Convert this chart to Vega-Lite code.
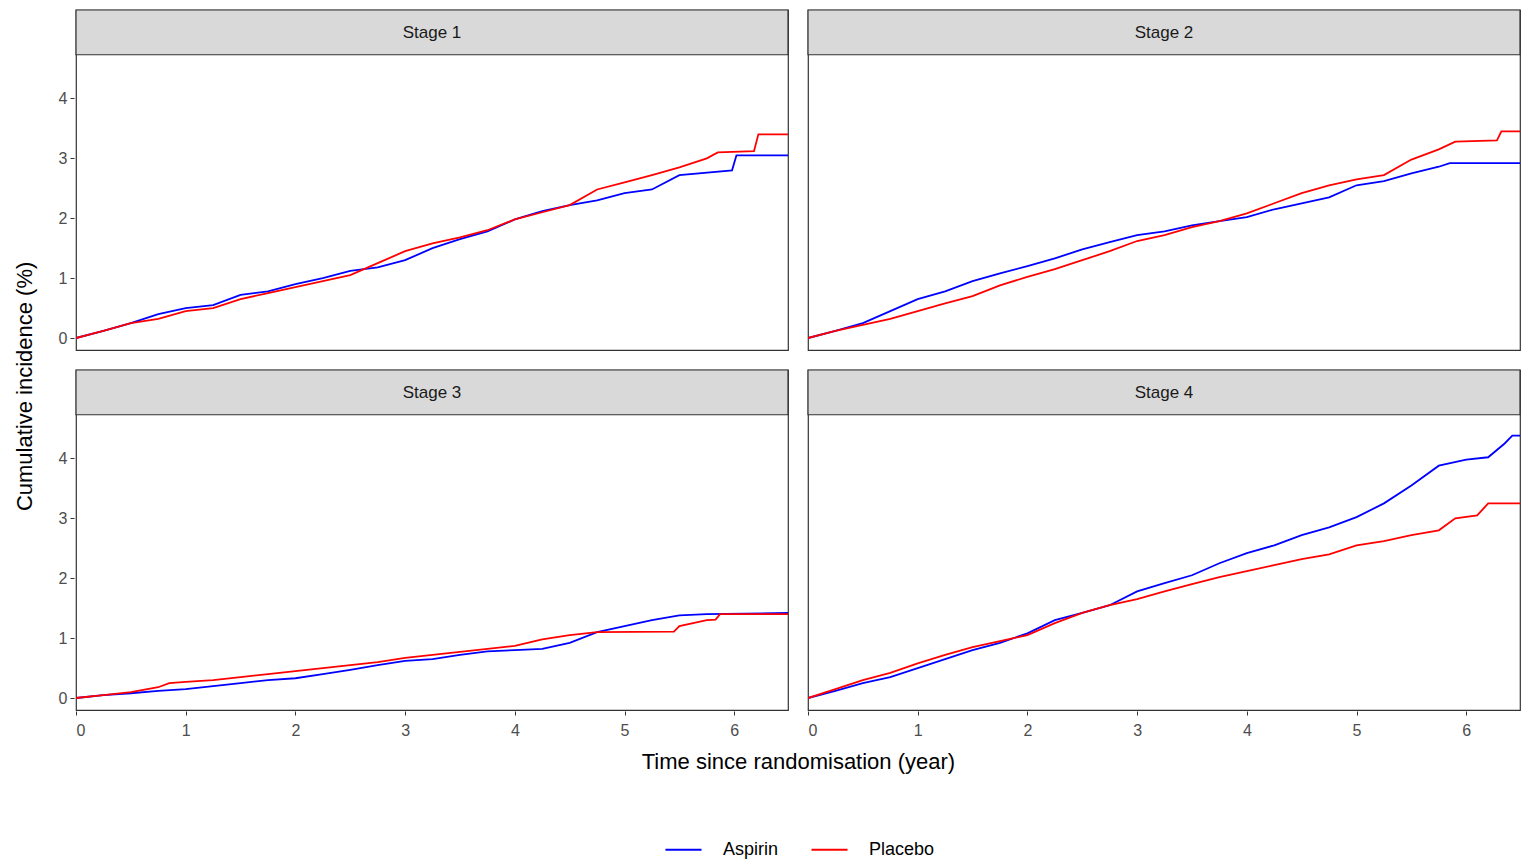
{
  "$schema": "https://vega.github.io/schema/vega-lite/v6.json",
  "background": "white",
  "padding": {"left": 12, "top": 8, "right": 1, "bottom": 5},
  "config": {
    "font": "Liberation Sans",
    "view": {"stroke": "#333333", "strokeWidth": 1.2},
    "axis": {"grid": false, "domain": false, "tickColor": "#333333", "labelColor": "#4d4d4d", "labelFontSize": 16, "tickSize": 4, "labelPadding": 3},
    "axisX": {"labelPadding": 7},
    "legend": {"labelFontSize": 18, "labelColor": "black"},
    "headerFacet": {"labels": false, "title": null, "labelPadding": 0}
  },
  "spacing": 0,
  "vconcat": [
    {
      "hconcat": [
        {
          "data": {"values": [{"label": "Cumulative incidence (%)"}]},
          "width": 26,
          "height": 697,
          "view": {"stroke": null},
          "mark": {"type": "text", "angle": 270, "fontSize": 22, "color": "black", "baseline": "middle"},
          "encoding": {
            "x": {"datum": 0.5, "type": "quantitative", "scale": {"domain": [0, 1]}, "axis": null},
            "y": {"datum": 0.46, "type": "quantitative", "scale": {"domain": [0, 1]}, "axis": null},
            "text": {"field": "label"}
          }
        },
        {
          "data": {"values": [
    {"s":"Stage 1","g":"Aspirin","t":0,"v":0},{"s":"Stage 1","g":"Aspirin","t":0.25,"v":0.12},{"s":"Stage 1","g":"Aspirin","t":0.5,"v":0.25},{"s":"Stage 1","g":"Aspirin","t":0.75,"v":0.4},{"s":"Stage 1","g":"Aspirin","t":1,"v":0.5},{"s":"Stage 1","g":"Aspirin","t":1.25,"v":0.55},{"s":"Stage 1","g":"Aspirin","t":1.5,"v":0.72},{"s":"Stage 1","g":"Aspirin","t":1.75,"v":0.78},{"s":"Stage 1","g":"Aspirin","t":2,"v":0.9},{"s":"Stage 1","g":"Aspirin","t":2.25,"v":1.0},{"s":"Stage 1","g":"Aspirin","t":2.5,"v":1.12},{"s":"Stage 1","g":"Aspirin","t":2.75,"v":1.18},{"s":"Stage 1","g":"Aspirin","t":3,"v":1.3},{"s":"Stage 1","g":"Aspirin","t":3.25,"v":1.5},{"s":"Stage 1","g":"Aspirin","t":3.5,"v":1.65},{"s":"Stage 1","g":"Aspirin","t":3.75,"v":1.78},{"s":"Stage 1","g":"Aspirin","t":4,"v":1.98},{"s":"Stage 1","g":"Aspirin","t":4.25,"v":2.12},{"s":"Stage 1","g":"Aspirin","t":4.5,"v":2.22},{"s":"Stage 1","g":"Aspirin","t":4.75,"v":2.3},{"s":"Stage 1","g":"Aspirin","t":5,"v":2.42},{"s":"Stage 1","g":"Aspirin","t":5.25,"v":2.48},{"s":"Stage 1","g":"Aspirin","t":5.5,"v":2.72},{"s":"Stage 1","g":"Aspirin","t":5.98,"v":2.8},{"s":"Stage 1","g":"Aspirin","t":6.02,"v":3.05},{"s":"Stage 1","g":"Aspirin","t":6.49,"v":3.05},
    {"s":"Stage 1","g":"Placebo","t":0,"v":0},{"s":"Stage 1","g":"Placebo","t":0.25,"v":0.12},{"s":"Stage 1","g":"Placebo","t":0.5,"v":0.25},{"s":"Stage 1","g":"Placebo","t":0.75,"v":0.32},{"s":"Stage 1","g":"Placebo","t":1,"v":0.45},{"s":"Stage 1","g":"Placebo","t":1.25,"v":0.5},{"s":"Stage 1","g":"Placebo","t":1.5,"v":0.65},{"s":"Stage 1","g":"Placebo","t":1.75,"v":0.75},{"s":"Stage 1","g":"Placebo","t":2,"v":0.85},{"s":"Stage 1","g":"Placebo","t":2.25,"v":0.95},{"s":"Stage 1","g":"Placebo","t":2.5,"v":1.05},{"s":"Stage 1","g":"Placebo","t":2.75,"v":1.25},{"s":"Stage 1","g":"Placebo","t":3,"v":1.45},{"s":"Stage 1","g":"Placebo","t":3.25,"v":1.58},{"s":"Stage 1","g":"Placebo","t":3.5,"v":1.68},{"s":"Stage 1","g":"Placebo","t":3.75,"v":1.8},{"s":"Stage 1","g":"Placebo","t":4,"v":1.98},{"s":"Stage 1","g":"Placebo","t":4.25,"v":2.1},{"s":"Stage 1","g":"Placebo","t":4.5,"v":2.22},{"s":"Stage 1","g":"Placebo","t":4.75,"v":2.48},{"s":"Stage 1","g":"Placebo","t":5,"v":2.6},{"s":"Stage 1","g":"Placebo","t":5.25,"v":2.72},{"s":"Stage 1","g":"Placebo","t":5.5,"v":2.85},{"s":"Stage 1","g":"Placebo","t":5.75,"v":3.0},{"s":"Stage 1","g":"Placebo","t":5.85,"v":3.1},{"s":"Stage 1","g":"Placebo","t":6.18,"v":3.12},{"s":"Stage 1","g":"Placebo","t":6.22,"v":3.4},{"s":"Stage 1","g":"Placebo","t":6.49,"v":3.4},
    {"s":"Stage 2","g":"Aspirin","t":0,"v":0},{"s":"Stage 2","g":"Aspirin","t":0.25,"v":0.12},{"s":"Stage 2","g":"Aspirin","t":0.5,"v":0.25},{"s":"Stage 2","g":"Aspirin","t":0.75,"v":0.45},{"s":"Stage 2","g":"Aspirin","t":1,"v":0.65},{"s":"Stage 2","g":"Aspirin","t":1.25,"v":0.78},{"s":"Stage 2","g":"Aspirin","t":1.5,"v":0.95},{"s":"Stage 2","g":"Aspirin","t":1.75,"v":1.08},{"s":"Stage 2","g":"Aspirin","t":2,"v":1.2},{"s":"Stage 2","g":"Aspirin","t":2.25,"v":1.33},{"s":"Stage 2","g":"Aspirin","t":2.5,"v":1.48},{"s":"Stage 2","g":"Aspirin","t":2.75,"v":1.6},{"s":"Stage 2","g":"Aspirin","t":3,"v":1.72},{"s":"Stage 2","g":"Aspirin","t":3.25,"v":1.78},{"s":"Stage 2","g":"Aspirin","t":3.5,"v":1.88},{"s":"Stage 2","g":"Aspirin","t":3.75,"v":1.95},{"s":"Stage 2","g":"Aspirin","t":4,"v":2.02},{"s":"Stage 2","g":"Aspirin","t":4.25,"v":2.15},{"s":"Stage 2","g":"Aspirin","t":4.5,"v":2.25},{"s":"Stage 2","g":"Aspirin","t":4.75,"v":2.35},{"s":"Stage 2","g":"Aspirin","t":5,"v":2.55},{"s":"Stage 2","g":"Aspirin","t":5.25,"v":2.62},{"s":"Stage 2","g":"Aspirin","t":5.5,"v":2.75},{"s":"Stage 2","g":"Aspirin","t":5.75,"v":2.86},{"s":"Stage 2","g":"Aspirin","t":5.85,"v":2.92},{"s":"Stage 2","g":"Aspirin","t":6.49,"v":2.92},
    {"s":"Stage 2","g":"Placebo","t":0,"v":0},{"s":"Stage 2","g":"Placebo","t":0.25,"v":0.12},{"s":"Stage 2","g":"Placebo","t":0.5,"v":0.22},{"s":"Stage 2","g":"Placebo","t":0.75,"v":0.32},{"s":"Stage 2","g":"Placebo","t":1,"v":0.45},{"s":"Stage 2","g":"Placebo","t":1.25,"v":0.58},{"s":"Stage 2","g":"Placebo","t":1.5,"v":0.7},{"s":"Stage 2","g":"Placebo","t":1.75,"v":0.88},{"s":"Stage 2","g":"Placebo","t":2,"v":1.02},{"s":"Stage 2","g":"Placebo","t":2.25,"v":1.15},{"s":"Stage 2","g":"Placebo","t":2.5,"v":1.3},{"s":"Stage 2","g":"Placebo","t":2.75,"v":1.45},{"s":"Stage 2","g":"Placebo","t":3,"v":1.62},{"s":"Stage 2","g":"Placebo","t":3.25,"v":1.72},{"s":"Stage 2","g":"Placebo","t":3.5,"v":1.85},{"s":"Stage 2","g":"Placebo","t":3.75,"v":1.95},{"s":"Stage 2","g":"Placebo","t":4,"v":2.08},{"s":"Stage 2","g":"Placebo","t":4.25,"v":2.25},{"s":"Stage 2","g":"Placebo","t":4.5,"v":2.42},{"s":"Stage 2","g":"Placebo","t":4.75,"v":2.55},{"s":"Stage 2","g":"Placebo","t":5,"v":2.65},{"s":"Stage 2","g":"Placebo","t":5.25,"v":2.72},{"s":"Stage 2","g":"Placebo","t":5.5,"v":2.98},{"s":"Stage 2","g":"Placebo","t":5.75,"v":3.15},{"s":"Stage 2","g":"Placebo","t":5.9,"v":3.28},{"s":"Stage 2","g":"Placebo","t":6.28,"v":3.3},{"s":"Stage 2","g":"Placebo","t":6.32,"v":3.45},{"s":"Stage 2","g":"Placebo","t":6.49,"v":3.45},
    {"s":"Stage 3","g":"Aspirin","t":0,"v":0},{"s":"Stage 3","g":"Aspirin","t":0.25,"v":0.05},{"s":"Stage 3","g":"Aspirin","t":0.5,"v":0.08},{"s":"Stage 3","g":"Aspirin","t":0.75,"v":0.12},{"s":"Stage 3","g":"Aspirin","t":1,"v":0.15},{"s":"Stage 3","g":"Aspirin","t":1.25,"v":0.2},{"s":"Stage 3","g":"Aspirin","t":1.5,"v":0.25},{"s":"Stage 3","g":"Aspirin","t":1.75,"v":0.3},{"s":"Stage 3","g":"Aspirin","t":2,"v":0.33},{"s":"Stage 3","g":"Aspirin","t":2.25,"v":0.4},{"s":"Stage 3","g":"Aspirin","t":2.5,"v":0.47},{"s":"Stage 3","g":"Aspirin","t":2.75,"v":0.55},{"s":"Stage 3","g":"Aspirin","t":3,"v":0.62},{"s":"Stage 3","g":"Aspirin","t":3.25,"v":0.65},{"s":"Stage 3","g":"Aspirin","t":3.5,"v":0.72},{"s":"Stage 3","g":"Aspirin","t":3.75,"v":0.78},{"s":"Stage 3","g":"Aspirin","t":4,"v":0.8},{"s":"Stage 3","g":"Aspirin","t":4.25,"v":0.82},{"s":"Stage 3","g":"Aspirin","t":4.5,"v":0.92},{"s":"Stage 3","g":"Aspirin","t":4.75,"v":1.1},{"s":"Stage 3","g":"Aspirin","t":5,"v":1.2},{"s":"Stage 3","g":"Aspirin","t":5.25,"v":1.3},{"s":"Stage 3","g":"Aspirin","t":5.5,"v":1.38},{"s":"Stage 3","g":"Aspirin","t":5.75,"v":1.4},{"s":"Stage 3","g":"Aspirin","t":6.49,"v":1.42},
    {"s":"Stage 3","g":"Placebo","t":0,"v":0},{"s":"Stage 3","g":"Placebo","t":0.25,"v":0.05},{"s":"Stage 3","g":"Placebo","t":0.5,"v":0.1},{"s":"Stage 3","g":"Placebo","t":0.75,"v":0.18},{"s":"Stage 3","g":"Placebo","t":0.85,"v":0.25},{"s":"Stage 3","g":"Placebo","t":1,"v":0.27},{"s":"Stage 3","g":"Placebo","t":1.25,"v":0.3},{"s":"Stage 3","g":"Placebo","t":1.5,"v":0.35},{"s":"Stage 3","g":"Placebo","t":1.75,"v":0.4},{"s":"Stage 3","g":"Placebo","t":2,"v":0.45},{"s":"Stage 3","g":"Placebo","t":2.25,"v":0.5},{"s":"Stage 3","g":"Placebo","t":2.5,"v":0.55},{"s":"Stage 3","g":"Placebo","t":2.75,"v":0.6},{"s":"Stage 3","g":"Placebo","t":3,"v":0.67},{"s":"Stage 3","g":"Placebo","t":3.25,"v":0.72},{"s":"Stage 3","g":"Placebo","t":3.5,"v":0.77},{"s":"Stage 3","g":"Placebo","t":3.75,"v":0.82},{"s":"Stage 3","g":"Placebo","t":4,"v":0.87},{"s":"Stage 3","g":"Placebo","t":4.25,"v":0.98},{"s":"Stage 3","g":"Placebo","t":4.5,"v":1.05},{"s":"Stage 3","g":"Placebo","t":4.75,"v":1.1},{"s":"Stage 3","g":"Placebo","t":5.45,"v":1.11},{"s":"Stage 3","g":"Placebo","t":5.5,"v":1.2},{"s":"Stage 3","g":"Placebo","t":5.75,"v":1.3},{"s":"Stage 3","g":"Placebo","t":5.83,"v":1.31},{"s":"Stage 3","g":"Placebo","t":5.87,"v":1.4},{"s":"Stage 3","g":"Placebo","t":6.49,"v":1.4},
    {"s":"Stage 4","g":"Aspirin","t":0,"v":0},{"s":"Stage 4","g":"Aspirin","t":0.25,"v":0.12},{"s":"Stage 4","g":"Aspirin","t":0.5,"v":0.25},{"s":"Stage 4","g":"Aspirin","t":0.75,"v":0.35},{"s":"Stage 4","g":"Aspirin","t":1,"v":0.5},{"s":"Stage 4","g":"Aspirin","t":1.25,"v":0.65},{"s":"Stage 4","g":"Aspirin","t":1.5,"v":0.8},{"s":"Stage 4","g":"Aspirin","t":1.75,"v":0.92},{"s":"Stage 4","g":"Aspirin","t":2,"v":1.08},{"s":"Stage 4","g":"Aspirin","t":2.25,"v":1.3},{"s":"Stage 4","g":"Aspirin","t":2.5,"v":1.42},{"s":"Stage 4","g":"Aspirin","t":2.75,"v":1.55},{"s":"Stage 4","g":"Aspirin","t":3,"v":1.78},{"s":"Stage 4","g":"Aspirin","t":3.25,"v":1.92},{"s":"Stage 4","g":"Aspirin","t":3.5,"v":2.05},{"s":"Stage 4","g":"Aspirin","t":3.75,"v":2.25},{"s":"Stage 4","g":"Aspirin","t":4,"v":2.42},{"s":"Stage 4","g":"Aspirin","t":4.25,"v":2.55},{"s":"Stage 4","g":"Aspirin","t":4.5,"v":2.72},{"s":"Stage 4","g":"Aspirin","t":4.75,"v":2.85},{"s":"Stage 4","g":"Aspirin","t":5,"v":3.02},{"s":"Stage 4","g":"Aspirin","t":5.25,"v":3.25},{"s":"Stage 4","g":"Aspirin","t":5.5,"v":3.55},{"s":"Stage 4","g":"Aspirin","t":5.75,"v":3.88},{"s":"Stage 4","g":"Aspirin","t":6,"v":3.98},{"s":"Stage 4","g":"Aspirin","t":6.2,"v":4.02},{"s":"Stage 4","g":"Aspirin","t":6.35,"v":4.25},{"s":"Stage 4","g":"Aspirin","t":6.42,"v":4.38},{"s":"Stage 4","g":"Aspirin","t":6.49,"v":4.38},
    {"s":"Stage 4","g":"Placebo","t":0,"v":0},{"s":"Stage 4","g":"Placebo","t":0.25,"v":0.15},{"s":"Stage 4","g":"Placebo","t":0.5,"v":0.3},{"s":"Stage 4","g":"Placebo","t":0.75,"v":0.42},{"s":"Stage 4","g":"Placebo","t":1,"v":0.58},{"s":"Stage 4","g":"Placebo","t":1.25,"v":0.72},{"s":"Stage 4","g":"Placebo","t":1.5,"v":0.85},{"s":"Stage 4","g":"Placebo","t":1.75,"v":0.95},{"s":"Stage 4","g":"Placebo","t":2,"v":1.05},{"s":"Stage 4","g":"Placebo","t":2.25,"v":1.25},{"s":"Stage 4","g":"Placebo","t":2.5,"v":1.42},{"s":"Stage 4","g":"Placebo","t":2.75,"v":1.55},{"s":"Stage 4","g":"Placebo","t":3,"v":1.65},{"s":"Stage 4","g":"Placebo","t":3.25,"v":1.78},{"s":"Stage 4","g":"Placebo","t":3.5,"v":1.9},{"s":"Stage 4","g":"Placebo","t":3.75,"v":2.02},{"s":"Stage 4","g":"Placebo","t":4,"v":2.12},{"s":"Stage 4","g":"Placebo","t":4.25,"v":2.22},{"s":"Stage 4","g":"Placebo","t":4.5,"v":2.32},{"s":"Stage 4","g":"Placebo","t":4.75,"v":2.4},{"s":"Stage 4","g":"Placebo","t":5,"v":2.55},{"s":"Stage 4","g":"Placebo","t":5.25,"v":2.62},{"s":"Stage 4","g":"Placebo","t":5.5,"v":2.72},{"s":"Stage 4","g":"Placebo","t":5.75,"v":2.8},{"s":"Stage 4","g":"Placebo","t":5.9,"v":3.0},{"s":"Stage 4","g":"Placebo","t":6.1,"v":3.05},{"s":"Stage 4","g":"Placebo","t":6.2,"v":3.25},{"s":"Stage 4","g":"Placebo","t":6.49,"v":3.25}
          ]},
          "facet": {"field": "s", "type": "nominal", "title": null, "header": {"labels": false, "title": null, "labelPadding": 0, "labelFontSize": 0}},
          "columns": 2,
          "spacing": {"column": 16, "row": 17},
          "spec": {
            "width": 712,
            "height": 340,
            "layer": [
              {
                "mark": {"type": "line", "interpolate": "linear", "strokeWidth": 1.8, "clip": true},
                "encoding": {
                  "x": {"field": "t", "type": "quantitative", "title": null, "scale": {"domain": [0, 6.49], "nice": false, "zero": false}, "axis": {"values": [0, 1, 2, 3, 4, 5, 6], "format": "d"}},
                  "y": {"field": "v", "type": "quantitative", "title": null, "scale": {"domain": [-0.2, 5.477], "nice": false, "zero": false}, "axis": {"values": [0, 1, 2, 3, 4], "format": "d"}},
                  "color": {"field": "g", "type": "nominal", "title": null, "scale": {"domain": ["Aspirin", "Placebo"], "range": ["#0000ff", "#ff0000"]}, "legend": {"orient": "none", "legendX": 652, "legendY": 820, "direction": "horizontal", "symbolType": "stroke", "symbolStrokeWidth": 2, "symbolSize": 1300, "labelOffset": 20, "columnPadding": 28}}
                }
              },
              {
                "transform": [{"aggregate": [{"op": "count", "as": "n"}], "groupby": ["s"]}],
                "mark": {"type": "rect", "fill": "#d9d9d9", "stroke": "#333333", "strokeWidth": 1.2},
                "encoding": {"x": {"datum": 0}, "x2": {"datum": 6.49}, "y": {"datum": 4.73}, "y2": {"datum": 5.477}}
              },
              {
                "transform": [{"aggregate": [{"op": "count", "as": "n"}], "groupby": ["s"]}],
                "mark": {"type": "text", "fontSize": 17, "color": "#1a1a1a", "baseline": "middle"},
                "encoding": {"x": {"datum": 3.245}, "y": {"datum": 5.1}, "text": {"field": "s"}}
              }
            ]
          }
        }
      ]
    },
    {
      "data": {"values": [{"label": "Time since randomisation (year)"}]},
      "width": 1470,
      "height": 44,
      "view": {"stroke": null},
      "mark": {"type": "text", "fontSize": 22, "color": "black", "baseline": "middle"},
      "encoding": {
        "x": {"datum": 0.535, "type": "quantitative", "scale": {"domain": [0, 1]}, "axis": null},
        "y": {"datum": 0.45, "type": "quantitative", "scale": {"domain": [0, 1]}, "axis": null},
        "text": {"field": "label"}
      }
    }
  ]
}
